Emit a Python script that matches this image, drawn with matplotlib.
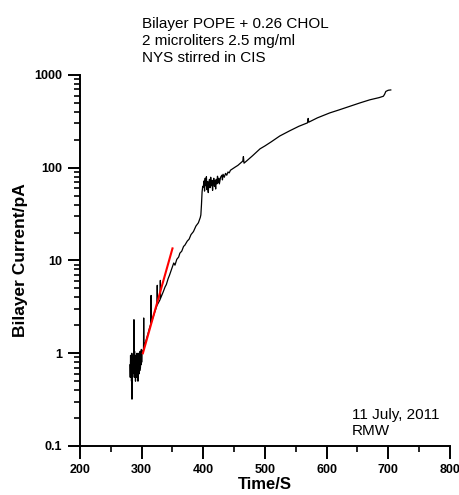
import matplotlib.pyplot as plt
from matplotlib.ticker import LogLocator, FixedLocator, NullFormatter

plt.rcParams['font.family'] = ['Liberation Sans', 'DejaVu Sans']

# recorded bilayer current trace (time in s, current in pA)
time_s = [
    281, 281.5, 282, 282.5, 283, 283.5, 284, 284.3, 284.6, 285, 285.5, 286, 286.5, 287,
    287.5, 288, 288.5, 289, 289.5, 290, 290.5, 291, 291.5, 292, 292.5, 293, 293.5, 294,
    294.5, 295, 295.5, 296, 296.5, 297, 297.5, 298, 298.5, 299, 299.5, 300, 300.5, 301,
    303, 303.3, 303.6, 306, 310, 313, 315, 315.3, 315.6, 318, 322, 325, 325.3, 325.6,
    330, 330.3, 330.6, 335, 338, 340, 343, 345, 349, 352, 354, 357, 360, 362, 365, 368,
    370, 374, 377, 380, 384, 388, 392, 395, 396, 397, 398, 399,
    400, 401, 402, 403, 404, 405, 406, 407, 408, 409, 410, 411, 412, 413, 414, 415, 416,
    417, 418, 419, 420, 421, 422, 423, 424, 425, 426, 428, 430, 431, 432, 434, 436, 438,
    440, 442, 444, 448, 452, 456, 460, 464, 465, 466, 470, 480, 492, 500, 510, 524, 540,
    555, 569, 570, 571, 585, 605, 620, 640, 654, 670, 685, 692, 694, 696, 700, 704,
]
current_pA = [
    0.75, 0.55, 0.95, 0.6, 0.85, 0.5, 1.0, 0.32, 0.8, 0.9, 0.6, 0.95, 0.7, 0.95,
    2.3, 0.55, 1.05, 0.6, 0.85, 0.5, 0.95, 0.65, 0.8, 0.55, 1.0, 0.6, 0.9, 0.5,
    0.85, 0.7, 1.0, 0.6, 0.9, 0.65, 1.05, 0.7, 0.95, 0.75, 1.1, 0.8, 1.0, 1.05,
    1.1, 2.4, 1.15, 1.3, 1.6, 1.9, 2.1, 4.2, 2.15, 2.4, 2.9, 3.3, 5.4, 3.35,
    3.8, 6.1, 3.9, 4.6, 5.2, 5.5, 6.4, 6.9, 8.2, 9.4, 8.9, 10.3, 10.9, 12.0, 12.6, 14.2,
    14.6, 16.2, 17.0, 19.0, 20.5, 23.5, 25.5, 29, 31, 40, 55, 63,
    62, 72, 56, 77, 64, 80, 58, 71, 54, 69, 75, 61, 79, 64, 73, 57, 71,
    77, 63, 73, 59, 75, 67, 81, 69, 77, 67, 79, 83, 74, 85, 79, 87, 83,
    90, 88, 94, 98, 102, 106, 112, 118, 132, 112, 118, 135, 160, 172, 190, 220, 250,
    280, 305, 340, 310, 345, 390, 420, 465, 500, 540, 570, 590, 620, 665, 685, 690,
]

# exponential fit over the early rise
fit_t = [302, 350]
fit_i = [1.0, 13.5]

title_lines = ['Bilayer POPE + 0.26 CHOL', '2 microliters 2.5 mg/ml', 'NYS stirred in CIS']
note_lines = ['11 July, 2011', 'RMW']

fig = plt.figure(figsize=(4.59, 4.95), dpi=100)
ax = fig.add_axes([0.1743, 0.099, 0.806, 0.7495])

ax.plot(time_s, current_pA, color='black', lw=0.9)
ax.plot(fit_t, fit_i, color='red', lw=1.5)

ax.set_yscale('log')
ax.set_xlim(200, 800)
ax.set_ylim(0.1, 1000)

ax.xaxis.set_major_locator(FixedLocator([200, 300, 400, 500, 600, 700, 800]))
ax.xaxis.set_minor_locator(FixedLocator([250, 350, 450, 550, 650, 750]))
ax.yaxis.set_major_locator(FixedLocator([0.1, 1, 10, 100, 1000]))
ax.yaxis.set_minor_locator(LogLocator(base=10, subs=range(2, 10)))
ax.yaxis.set_minor_formatter(NullFormatter())
ax.set_yticklabels(['0.1', '1', '10', '100', '1000'])

for s in ['top', 'right']:
    ax.spines[s].set_visible(False)
for s in ['left', 'bottom']:
    ax.spines[s].set_linewidth(1.4)

ax.tick_params(which='major', direction='out', length=9, width=1.4,
               labelsize=9, pad=4)
ax.tick_params(which='minor', direction='out', length=4, width=1.2)
for lab in ax.get_xticklabels() + ax.get_yticklabels():
    lab.set_fontweight('bold')

ax.set_xlabel('Time/S', fontsize=12, fontweight='bold', labelpad=1)
ax.set_ylabel('Bilayer Current/pA', fontsize=12.5, fontweight='bold', labelpad=4)

fig.text(142 / 459, 1 - 17 / 495, '\n'.join(title_lines), fontsize=11,
         va='top', ha='left', linespacing=1.26)
fig.text(352 / 459, 1 - 408 / 495, '\n'.join(note_lines), fontsize=11,
         va='top', ha='left', linespacing=1.2)

fig.savefig('out.png', dpi=100)
